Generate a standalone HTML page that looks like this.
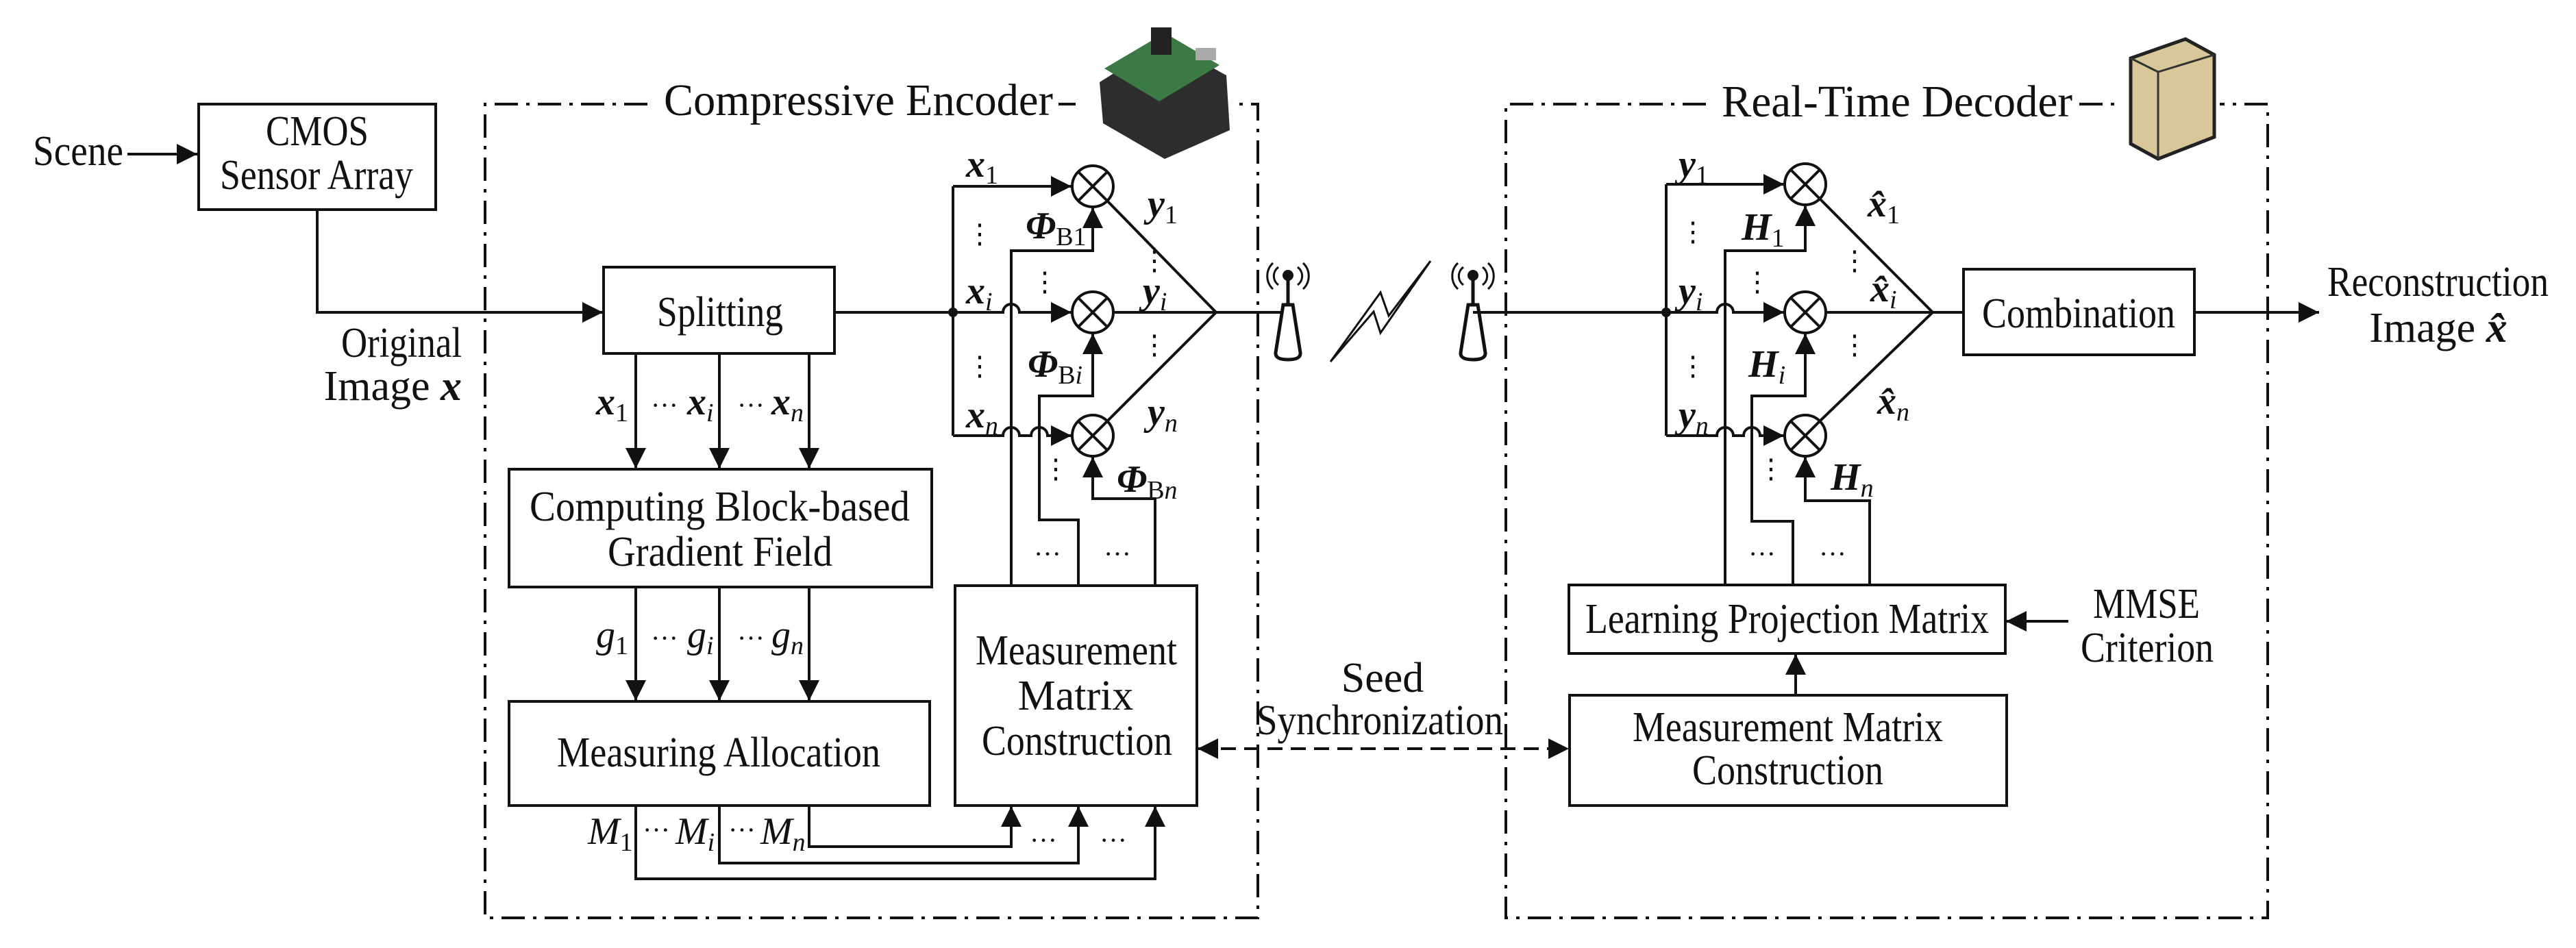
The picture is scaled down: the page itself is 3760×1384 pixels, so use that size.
<!DOCTYPE html>
<html><head><meta charset="utf-8"><style>
html,body{margin:0;padding:0;background:#fff;}
svg{display:block;}
text{font-family:"Liberation Serif","Times New Roman","DejaVu Serif",serif;fill:#111;}
.t{font-size:62px;}
.m{font-size:56px;font-style:italic;font-weight:bold;}
.s{font-size:38px;font-style:normal;font-weight:normal;}
.si{font-size:38px;font-style:italic;font-weight:normal;}
.d{font-size:40px;font-style:normal;font-weight:normal;}
</style></head><body>
<svg width="3760" height="1384" viewBox="0 0 3760 1384" xmlns="http://www.w3.org/2000/svg">
<defs>
<marker id="ar" viewBox="0 0 10 10" refX="10" refY="5" markerWidth="30" markerHeight="30" markerUnits="userSpaceOnUse" orient="auto"><path d="M0,0 L10,5 L0,10 z" fill="#111"/></marker>
<marker id="as" viewBox="0 0 10 10" refX="0" refY="5" markerWidth="30" markerHeight="30" markerUnits="userSpaceOnUse" orient="auto"><path d="M10,0 L0,5 L10,10 z" fill="#111"/></marker>
</defs>
<g fill="none" stroke="#111" stroke-width="4">
<path d="M945,152 H708 V1340 H1836 V152 H1800 M1545,152 H1570" stroke-dasharray="34 12 5 12"/>
<path d="M2490,152 H2198 V1340 H3310 V152 H3240 M3035,152 H3090" stroke-dasharray="34 12 5 12"/>
<rect x="290" y="152" width="346" height="154"/>
<rect x="881" y="390" width="337" height="126"/>
<rect x="743" y="685" width="617" height="172"/>
<rect x="743" y="1024" width="614" height="152"/>
<rect x="1394" y="855" width="353" height="321"/>
<rect x="2866" y="393" width="337" height="125"/>
<rect x="2290" y="854" width="637" height="100"/>
<rect x="2291" y="1015" width="638" height="161"/>
<path d="M186,225 H288" marker-end="url(#ar)"/>
<path d="M463,306 V456 H880" marker-end="url(#ar)"/>
<path d="M928,516 V684" marker-end="url(#ar)"/>
<path d="M1050,516 V684" marker-end="url(#ar)"/>
<path d="M1181,516 V684" marker-end="url(#ar)"/>
<path d="M928,857 V1023" marker-end="url(#ar)"/>
<path d="M1050,857 V1023" marker-end="url(#ar)"/>
<path d="M1181,857 V1023" marker-end="url(#ar)"/>
<path d="M1181,1176 V1236 H1476 V1177" marker-end="url(#ar)"/>
<path d="M1050,1176 V1260 H1574 V1177" marker-end="url(#ar)"/>
<path d="M928,1176 V1283 H1686 V1177" marker-end="url(#ar)"/>
<path d="M1218,456 H1391"/>
<path d="M1391,272 V636"/>
<path d="M1391,272 H1564" marker-end="url(#ar)"/>
<path d="M1391,456 H1464 a12,12 0 0 1 24,0 H1564" marker-end="url(#ar)"/>
<path d="M1391,636 H1464 a12,12 0 0 1 24,0 H1505 a12,12 0 0 1 24,0 H1564" marker-end="url(#ar)"/>
<path d="M1476,855 V366 H1595 V303" marker-end="url(#ar)"/>
<path d="M1574,855 V759 H1517 V578 H1595 V487" marker-end="url(#ar)"/>
<path d="M1686,855 V728 H1595 V667" marker-end="url(#ar)"/>
<circle cx="1595" cy="272" r="30"/><path d="M1574,251 L1616,293 M1616,251 L1574,293"/>
<circle cx="1595" cy="456" r="30"/><path d="M1574,435 L1616,477 M1616,435 L1574,477"/>
<circle cx="1595" cy="636" r="30"/><path d="M1574,615 L1616,657 M1616,615 L1574,657"/>
<path d="M1615,292 L1775,456 L1615,616 M1625,456 H1870"/>
<path d="M2150,456 H2432 M2432,269 V636"/>
<path d="M2432,269 H2604" marker-end="url(#ar)"/>
<path d="M2432,456 H2506 a12,12 0 0 1 24,0 H2604" marker-end="url(#ar)"/>
<path d="M2432,636 H2506 a12,12 0 0 1 24,0 H2545 a12,12 0 0 1 24,0 H2604" marker-end="url(#ar)"/>
<path d="M2518,854 V366 H2635 V300" marker-end="url(#ar)"/>
<path d="M2617,854 V761 H2557 V578 H2635 V487" marker-end="url(#ar)"/>
<path d="M2729,854 V731 H2635 V667" marker-end="url(#ar)"/>
<circle cx="2635" cy="269" r="30"/><path d="M2614,248 L2656,290 M2656,248 L2614,290"/>
<circle cx="2635" cy="456" r="30"/><path d="M2614,435 L2656,477 M2656,435 L2614,477"/>
<circle cx="2635" cy="636" r="30"/><path d="M2614,615 L2656,657 M2656,615 L2614,657"/>
<path d="M2655,289 L2821,456 L2655,616 M2665,456 H2866"/>
<path d="M3203,456 H3385" marker-end="url(#ar)"/>
<path d="M3019,907 H2928" marker-end="url(#ar)"/>
<path d="M2621,1015 V955" marker-end="url(#ar)"/>
<path d="M1748,1093 H2290" stroke-dasharray="22 12" marker-start="url(#as)" marker-end="url(#ar)"/>
<path d="M1880,402 V445 M1873,445 H1887 L1898,515 Q1899,525 1880,525 Q1861,525 1862,515 Z" stroke-width="5"/>
<path d="M1866,390 a16,16 0 0 0 0,26 M1894,390 a16,16 0 0 1 0,26 M1858,384 a26,26 0 0 0 0,38 M1902,384 a26,26 0 0 1 0,38" stroke-width="3"/>
<path d="M2150,402 V445 M2143,445 H2157 L2168,515 Q2169,525 2150,525 Q2131,525 2132,515 Z" stroke-width="5"/>
<path d="M2136,390 a16,16 0 0 0 0,26 M2164,390 a16,16 0 0 1 0,26 M2128,384 a26,26 0 0 0 0,38 M2172,384 a26,26 0 0 1 0,38" stroke-width="3"/>
<path d="M1942,528 L2005,455 L2015,486 L2088,381 L2027,461 L2015,427 Z" stroke-width="3"/>
</g>
<circle cx="1880" cy="402" r="8" fill="#111"/><circle cx="2150" cy="402" r="8" fill="#111"/>
<circle cx="1391" cy="456" r="7" fill="#111"/><circle cx="2432" cy="456" r="7" fill="#111"/>
<g>
<path d="M1605,120 L1700,60 L1790,110 L1795,190 L1700,232 L1610,180 Z" fill="#2d2d2d"/>
<path d="M1612,100 L1700,48 L1780,95 L1692,148 Z" fill="#3b7a44"/>
<rect x="1680" y="40" width="30" height="40" fill="#222"/>
<rect x="1745" y="70" width="30" height="18" fill="#aaa"/>
</g>
<g>
<path d="M3110,85 L3190,57 L3232,80 L3232,200 L3150,232 L3110,210 Z" fill="#d9c79a" stroke="#222" stroke-width="5"/>
<path d="M3110,85 L3150,105 L3232,80 M3150,105 V232" fill="none" stroke="#333" stroke-width="3"/>
</g>
<g class="t" lengthAdjust="spacingAndGlyphs">
<text x="48" y="241" textLength="132" lengthAdjust="spacingAndGlyphs">Scene</text>
<text x="388" y="212" textLength="150" lengthAdjust="spacingAndGlyphs">CMOS</text>
<text x="321" y="276" textLength="282" lengthAdjust="spacingAndGlyphs">Sensor Array</text>
<text x="498" y="521" textLength="176" lengthAdjust="spacingAndGlyphs">Original</text>
<text x="674" y="584" text-anchor="end">Image <tspan style="font-style:italic;font-weight:bold">x</tspan></text>
<text x="969" y="168" font-size="66" textLength="568" lengthAdjust="spacingAndGlyphs">Compressive Encoder</text>
<text x="2513" y="170" font-size="66" textLength="512" lengthAdjust="spacingAndGlyphs">Real-Time Decoder</text>
<text x="959" y="476" textLength="184" lengthAdjust="spacingAndGlyphs">Splitting</text>
<text x="773" y="760" textLength="555" lengthAdjust="spacingAndGlyphs">Computing Block-based</text>
<text x="887" y="826" textLength="328" lengthAdjust="spacingAndGlyphs">Gradient Field</text>
<text x="813" y="1119" textLength="472" lengthAdjust="spacingAndGlyphs">Measuring Allocation</text>
<text x="1424" y="970" textLength="294" lengthAdjust="spacingAndGlyphs">Measurement</text>
<text x="1570" y="1036" text-anchor="middle">Matrix</text>
<text x="1433" y="1102" textLength="278" lengthAdjust="spacingAndGlyphs">Construction</text>
<text x="2893" y="478" textLength="282" lengthAdjust="spacingAndGlyphs">Combination</text>
<text x="2314" y="924" textLength="589" lengthAdjust="spacingAndGlyphs">Learning Projection Matrix</text>
<text x="2383" y="1082" textLength="453" lengthAdjust="spacingAndGlyphs">Measurement Matrix</text>
<text x="2470" y="1145" textLength="279" lengthAdjust="spacingAndGlyphs">Construction</text>
<text x="3055" y="902" textLength="156" lengthAdjust="spacingAndGlyphs">MMSE</text>
<text x="3037" y="966" textLength="194" lengthAdjust="spacingAndGlyphs">Criterion</text>
<text x="2018" y="1010" text-anchor="middle">Seed</text>
<text x="1834" y="1072" textLength="360" lengthAdjust="spacingAndGlyphs">Synchronization</text>
<text x="3397" y="432" textLength="323" lengthAdjust="spacingAndGlyphs">Reconstruction</text>
<text x="3559" y="499" text-anchor="middle">Image <tspan style="font-style:italic;font-weight:bold">x̂</tspan></text>
</g>
<g class="m">
<text x="870" y="605">x<tspan class="s" dy="10">1</tspan></text>
<text x="950" y="605" class="d">···</text>
<text x="1003" y="605">x<tspan class="si" dy="10">i</tspan></text>
<text x="1076" y="605" class="d">···</text>
<text x="1126" y="605">x<tspan class="si" dy="10">n</tspan></text>
<text x="870" y="945" style="font-weight:normal">g<tspan class="s" dy="10">1</tspan></text>
<text x="950" y="945" class="d">···</text>
<text x="1003" y="945" style="font-weight:normal">g<tspan class="si" dy="10">i</tspan></text>
<text x="1076" y="945" class="d">···</text>
<text x="1126" y="945" style="font-weight:normal">g<tspan class="si" dy="10">n</tspan></text>
<text x="858" y="1232" style="font-weight:normal">M<tspan class="s" dy="10">1</tspan></text>
<text x="938" y="1225" class="d">···</text>
<text x="986" y="1232" style="font-weight:normal">M<tspan class="si" dy="10">i</tspan></text>
<text x="1063" y="1225" class="d">···</text>
<text x="1110" y="1232" style="font-weight:normal">M<tspan class="si" dy="10">n</tspan></text>
<text x="1410" y="258">x<tspan class="s" dy="10">1</tspan></text>
<text x="1410" y="443">x<tspan class="si" dy="10">i</tspan></text>
<text x="1410" y="624">x<tspan class="si" dy="10">n</tspan></text>
<text x="1497" y="348">Φ<tspan class="s" dy="10">B1</tspan></text>
<text x="1500" y="550">Φ<tspan class="s" dy="10">B</tspan><tspan class="si">i</tspan></text>
<text x="1630" y="718">Φ<tspan class="s" dy="10">B</tspan><tspan class="si">n</tspan></text>
<text x="1675" y="316">y<tspan class="s" dy="10">1</tspan></text>
<text x="1668" y="443">y<tspan class="si" dy="10">i</tspan></text>
<text x="1675" y="620">y<tspan class="si" dy="10">n</tspan></text>
<text x="2450" y="258">y<tspan class="s" dy="10">1</tspan></text>
<text x="2450" y="443">y<tspan class="si" dy="10">i</tspan></text>
<text x="2450" y="624">y<tspan class="si" dy="10">n</tspan></text>
<text x="2542" y="350">H<tspan class="s" dy="10">1</tspan></text>
<text x="2552" y="550">H<tspan class="si" dy="10">i</tspan></text>
<text x="2672" y="715">H<tspan class="si" dy="10">n</tspan></text>
<text x="2726" y="316">x̂<tspan class="s" dy="10">1</tspan></text>
<text x="2730" y="440">x̂<tspan class="si" dy="10">i</tspan></text>
<text x="2740" y="604">x̂<tspan class="si" dy="10">n</tspan></text>
</g>
<g class="d" text-anchor="middle">
<text x="1430" y="355">⋮</text><text x="1430" y="548">⋮</text>
<text x="1525" y="425">⋮</text><text x="1541" y="698">⋮</text>
<text x="1685" y="394">⋮</text><text x="1685" y="517">⋮</text>
<text x="1529" y="822">···</text><text x="1631" y="822">···</text>
<text x="1523" y="1240">···</text><text x="1625" y="1240">···</text>
<text x="2471" y="352">⋮</text><text x="2471" y="548">⋮</text>
<text x="2565" y="425">⋮</text><text x="2585" y="698">⋮</text>
<text x="2707" y="394">⋮</text><text x="2707" y="517">⋮</text>
<text x="2572" y="822">···</text><text x="2675" y="822">···</text>
</g>
</svg>
</body></html>
